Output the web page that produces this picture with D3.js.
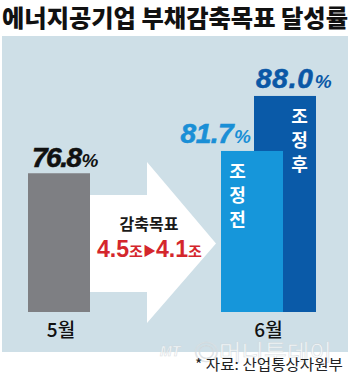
<!DOCTYPE html>
<html><head><meta charset="utf-8">
<script src="https://cdn.jsdelivr.net/npm/d3@7"></script>
<style>html,body{margin:0;padding:0;background:#fff;}svg{display:block;}</style>
</head><body>
<script>
const title = "에너지공기업 부채감축목표 달성률";
const categories = ["5월", "6월"];
const seriesNames = ["5월", "조정전", "조정후"];
const seriesCategory = ["5월", "6월", "6월"];
const values = [76.8, 81.7, 88.0];
const valueLabels = ["76.8", "81.7", "88.0"];
const barTexts = ["", "조정전", "조정후"];
const arrowTitle = "감축목표";
const targetFrom = "4.5";
const targetTo = "4.1";
const targetUnit = "조";
const source = "* 자료: 산업통상자원부";

const W = 350, H = 374;
const colors = {"5월": "#7e7f83", "조정전": "#1696da", "조정후": "#0a5aa8"};
const labelColors = {"5월": "#111", "조정전": "#1a8fd6", "조정후": "#0a58a6"};

const svg = d3.select("body").append("svg").attr("width", W).attr("height", H);
const KR = "'Noto Sans CJK KR', 'Noto Sans', sans-serif";
const NUM = "'Liberation Sans', Arial, sans-serif";

// title
svg.append("text").attr("x", 2).attr("y", 27)
  .attr("font-family", KR).attr("font-weight", 900).attr("font-size", 24)
  .attr("fill", "#111").attr("textLength", 346).attr("lengthAdjust", "spacingAndGlyphs")
  .text(title);

// panel
svg.append("rect").attr("x", 2).attr("y", 36).attr("width", 346).attr("height", 316)
  .attr("fill", "#cedfe7");

// scales
const baseY = 312;
const x = d3.scalePoint().domain(categories).range([59, 268.5]);
const sub = d3.scalePoint().domain(["조정전", "조정후"]).range([-16.5, 16.5]);
const y = d3.scaleLinear().domain([70, 80, 90]).range([189.1, 165.8, 78.5]);
const barW = 62;
const cx = i => x(seriesCategory[i]) + (seriesCategory[i] === "6월" ? sub(seriesNames[i]) : 0);

// arrow (decorative), anchored to bar scales
const ax0 = cx(0) + barW / 2, tipX = cx(1) - barW / 2 - 5, midY = 243.5;
const headX = 147;
svg.append("path")
  .attr("d", `M${ax0},195 L${headX},195 L${headX},162 L${tipX},${midY} L${headX},323 L${headX},292 L${ax0},292 Z`)
  .attr("fill", "#fff");

// bars: draw dark first so light overlaps it
const order = [0, 2, 1];
svg.selectAll("rect.bar").data(order).enter().append("rect")
  .attr("class", "bar")
  .attr("x", i => cx(i) - barW / 2)
  .attr("y", i => y(values[i]))
  .attr("width", barW)
  .attr("height", i => baseY - y(values[i]))
  .attr("fill", i => colors[seriesNames[i]]);

// value labels
const lbl = svg.selectAll("text.val").data([0, 1, 2]).enter().append("text")
  .attr("class", "val")
  .attr("font-family", NUM).attr("font-weight", 700).attr("font-style", "italic")
  .attr("fill", i => labelColors[seriesNames[i]])
  .attr("text-anchor", i => i === 1 ? "end" : "start")
  .attr("x", i => i === 0 ? cx(i) - barW / 2 + 4 : i === 1 ? cx(i) - barW / 2 + 30 : cx(i) - barW / 2 + 2)
  .attr("y", i => y(values[i]) - (i === 0 ? 6.5 : 7.7));
lbl.append("tspan").attr("font-size", 28).attr("letter-spacing", i => i === 0 ? -1.5 : i === 2 ? 0.8 : -0.5)
  .attr("stroke", i => labelColors[seriesNames[i]]).attr("stroke-width", 0.6)
  .text(i => valueLabels[i]);
lbl.append("tspan").attr("font-size", 19).attr("dx", 1).text("%");

// vertical text inside bars
[1, 2].forEach(i => {
  const stripX = i === 1 ? (cx(1) - barW / 2 + cx(2) - barW / 2) / 2 : (cx(1) + barW / 2 + cx(2) + barW / 2) / 2;
  const chars = Array.from(barTexts[i]);
  svg.selectAll(null).data(chars).enter().append("text")
    .attr("x", stripX)
    .attr("y", (c, k) => y(values[i]) + 27 + k * 24)
    .attr("text-anchor", "middle")
    .attr("font-family", KR).attr("font-weight", 700).attr("font-size", 18)
    .attr("fill", "#fff")
    .text(c => c);
});

// arrow texts
svg.append("text").attr("x", 149).attr("y", 229.5).attr("text-anchor", "middle")
  .attr("font-family", KR).attr("font-weight", 700).attr("font-size", 16).attr("fill", "#1a1a1a")
  .text(arrowTitle);
const tgt = svg.append("text").attr("x", 97).attr("y", 256.5)
  .attr("fill", "#d4262c").attr("textLength", 105).attr("lengthAdjust", "spacingAndGlyphs");
tgt.append("tspan").attr("font-family", NUM).attr("font-weight", 700).attr("font-size", 23).text(targetFrom);
tgt.append("tspan").attr("font-family", KR).attr("font-weight", 700).attr("font-size", 15).text(targetUnit);
tgt.append("tspan").attr("font-family", KR).attr("font-size", 13).attr("dy", -1.5).text("▶");
tgt.append("tspan").attr("font-family", NUM).attr("font-weight", 700).attr("font-size", 23).attr("dy", 1.5).text(targetTo);
tgt.append("tspan").attr("font-family", KR).attr("font-weight", 700).attr("font-size", 15).text(targetUnit);

// category labels
svg.selectAll("text.cat").data(categories).enter().append("text")
  .attr("class", "cat")
  .attr("x", d => x(d) + (d === "5월" ? 2 : 0)).attr("y", 337)
  .attr("text-anchor", "middle")
  .attr("font-family", KR).attr("font-weight", 500).attr("font-size", 19).attr("fill", "#111")
  .text(d => d);

// watermark
const wm = svg.append("g").attr("opacity", 0.75);
wm.append("text").attr("x", 160).attr("y", 356).attr("font-family", NUM).attr("font-style", "italic")
  .attr("font-weight", 700).attr("font-size", 14).attr("fill", "#fff").attr("stroke", "#cfd6da").attr("stroke-width", 0.6)
  .text("MT");
wm.append("text").attr("x", 194).attr("y", 360).attr("font-family", KR)
  .attr("font-size", 22).attr("fill", "#fff").attr("stroke", "#cfd6da").attr("stroke-width", 0.6)
  .attr("textLength", 138).attr("lengthAdjust", "spacingAndGlyphs")
  .text("◎머니투데이");

// source
svg.append("text").attr("x", 343).attr("y", 370).attr("text-anchor", "end")
  .attr("font-family", KR).attr("font-size", 15).attr("fill", "#222")
  .attr("textLength", 148).attr("lengthAdjust", "spacingAndGlyphs")
  .text(source);
</script>
</body></html>
